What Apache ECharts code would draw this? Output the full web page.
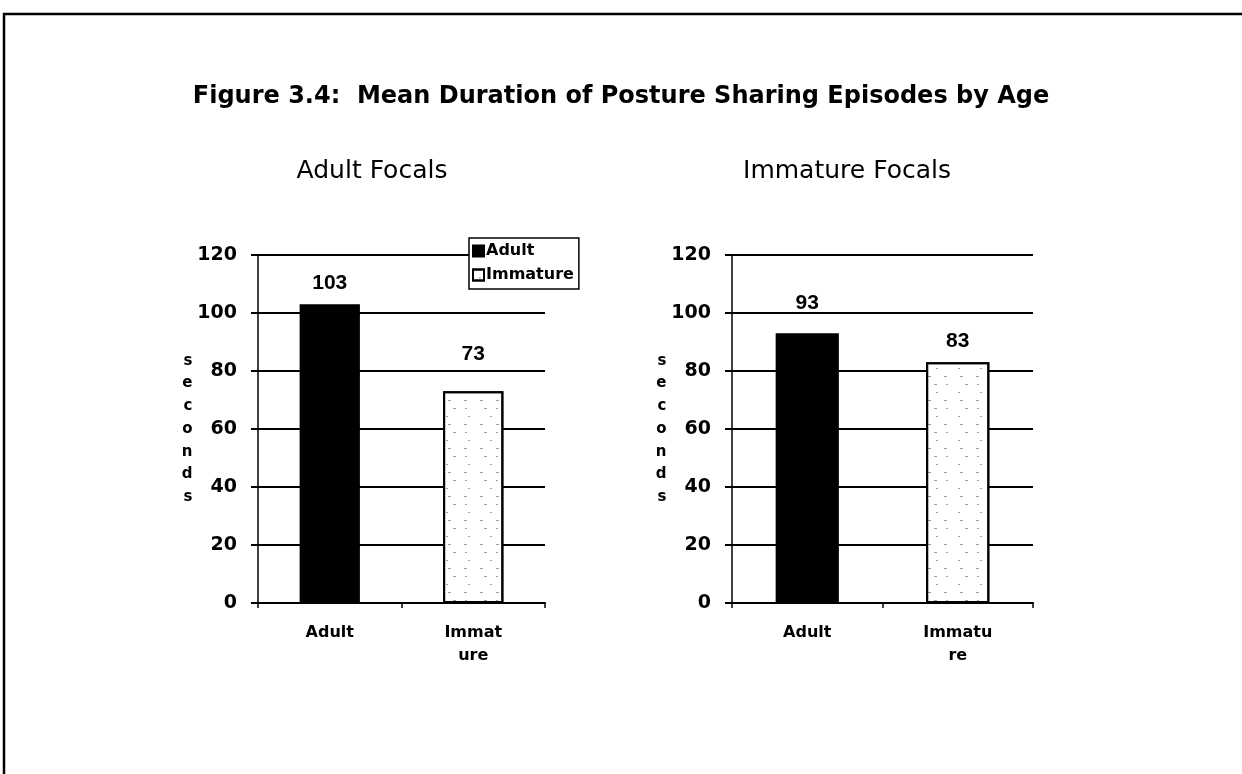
<!DOCTYPE html>
<html>
<head>
<meta charset="utf-8">
<script src="https://cdn.jsdelivr.net/npm/echarts@6/dist/echarts.min.js"></script>
<style>
  html, body { margin: 0; padding: 0; background: #fff; }
  #chart { width: 1242px; height: 774px; }
</style>
</head>
<body>
<div id="chart"></div>
<script>
// Mean duration (seconds) of posture sharing episodes, by partner age
const categories = ['Adult', 'Immature'];
const categoryLabelsLeft = ['Adult', 'Immat\nure'];
const categoryLabelsRight = ['Adult', 'Immatu\nre'];
const adultFocals = [103, 73];
const immatureFocals = [93, 83];
const yTicks = [0, 20, 40, 60, 80, 100, 120];

const titleText = 'Figure 3.4:  Mean Duration of Posture Sharing Episodes by Age';
const panelTitles = ['Adult Focals', 'Immature Focals'];

// extra gap between each bar top and its value label
const labelGapLeft = [5, 21];
const labelGapRight = [14, 5];

const chart = echarts.init(document.getElementById('chart'), null, { renderer: 'canvas' });

const tickFont = { fontFamily: 'DejaVu Sans', fontWeight: 'bold', fontSize: 19, color: '#000' };
const catFont = { fontFamily: 'DejaVu Sans', fontWeight: 'bold', fontSize: 16, color: '#000', lineHeight: 23 };

function yAxisFor(gridIndex) {
  return {
    type: 'value', gridIndex: gridIndex,
    min: yTicks[0], max: yTicks[yTicks.length - 1], interval: 20,
    name: 's\ne\nc\no\nn\nd\ns', nameLocation: 'middle', nameRotate: 0, nameGap: 60,
    nameTextStyle: { fontFamily: 'DejaVu Sans', fontWeight: 'bold', fontSize: 15, lineHeight: 22.7, color: '#000', padding: [14, 0, 0, 0] },
    axisLine: { show: true, lineStyle: { color: '#000', width: 1.5 } },
    axisTick: { show: true, length: 7, lineStyle: { color: '#000', width: 2 } },
    axisLabel: Object.assign({ margin: 21 }, tickFont),
    splitLine: { show: true, lineStyle: { color: '#000', width: 2 } }
  };
}

function xAxisFor(gridIndex, labels) {
  return {
    type: 'category', gridIndex: gridIndex, data: categories,
    axisLine: { show: true, lineStyle: { color: '#000', width: 2 } },
    axisTick: { show: true, length: 5, lineStyle: { color: '#000', width: 1.5 } },
    axisLabel: Object.assign({ margin: 18, formatter: (v, i) => labels[i] }, catFont)
  };
}

function barPair(values, gaps, xi, yi) {
  const labelFor = (i) => ({
    show: true, position: 'top', distance: 6 + gaps[i],
    fontFamily: 'Liberation Sans', fontWeight: 'bold', fontSize: 21, color: '#000'
  });
  return [
    {
      name: categories[0], type: 'bar', xAxisIndex: xi, yAxisIndex: yi,
      barWidth: '42%', barGap: '-100%',
      itemStyle: { color: '#000', borderColor: '#000', borderWidth: 1.5 },
      label: labelFor(0),
      data: values.map((v, i) => (i === 0 ? v : '-')),
      silent: true, animation: false
    },
    {
      name: categories[1], type: 'bar', xAxisIndex: xi, yAxisIndex: yi,
      barWidth: '42%', barGap: '-100%',
      itemStyle: {
        color: '#fff', borderColor: '#000', borderWidth: 2,
        // sparse stipple inside the immature bars
        decal: {
          symbol: 'rect', symbolSize: 1, color: 'rgba(0,0,0,0.38)',
          dashArrayX: [[3, 13], [2, 17, 3, 9], [0, 6, 2, 14]], dashArrayY: [1, 7], rotation: 0
        }
      },
      label: labelFor(1),
      data: values.map((v, i) => (i === 1 ? v : '-')),
      silent: true, animation: false
    }
  ];
}

const option = {
  backgroundColor: '#fff',
  animation: false,
  title: [
    { text: titleText, left: 'center', top: 80,
      textStyle: { fontFamily: 'DejaVu Sans', fontWeight: 'bold', fontSize: 24, color: '#000' } },
    { text: panelTitles[0], left: 367, top: 154, textAlign: 'center',
      textStyle: { fontFamily: 'DejaVu Sans', fontWeight: 'normal', fontSize: 25, color: '#000' } },
    { text: panelTitles[1], left: 842, top: 154, textAlign: 'center',
      textStyle: { fontFamily: 'DejaVu Sans', fontWeight: 'normal', fontSize: 25, color: '#000' } }
  ],
  legend: {
    data: categories, orient: 'vertical', left: 469, top: 238,
    itemWidth: 11, itemHeight: 11, itemGap: 8, icon: 'rect',
    padding: [5, 5, 6, 3], borderColor: '#000', borderWidth: 1.5,
    backgroundColor: '#fff', selectedMode: false,
    textStyle: { fontFamily: 'DejaVu Sans', fontWeight: 'bold', fontSize: 16, color: '#000', padding: [0, 0, 0, -3] }
  },
  grid: [
    { left: 258, right: 1242 - 545, top: 255, bottom: 774 - 603 },
    { left: 732, right: 1242 - 1033, top: 255, bottom: 774 - 603 }
  ],
  xAxis: [xAxisFor(0, categoryLabelsLeft), xAxisFor(1, categoryLabelsRight)],
  yAxis: [yAxisFor(0), yAxisFor(1)],
  series: [].concat(
    barPair(adultFocals, labelGapLeft, 0, 0),
    barPair(immatureFocals, labelGapRight, 1, 1)
  ),
  graphic: [
    { type: 'rect', silent: true, z: 100,
      shape: { x: 4, y: 14, width: 1400, height: 1000 },
      style: { fill: 'none', stroke: '#000', lineWidth: 2.5 } }
  ]
};

chart.setOption(option);
</script>
</body>
</html>
